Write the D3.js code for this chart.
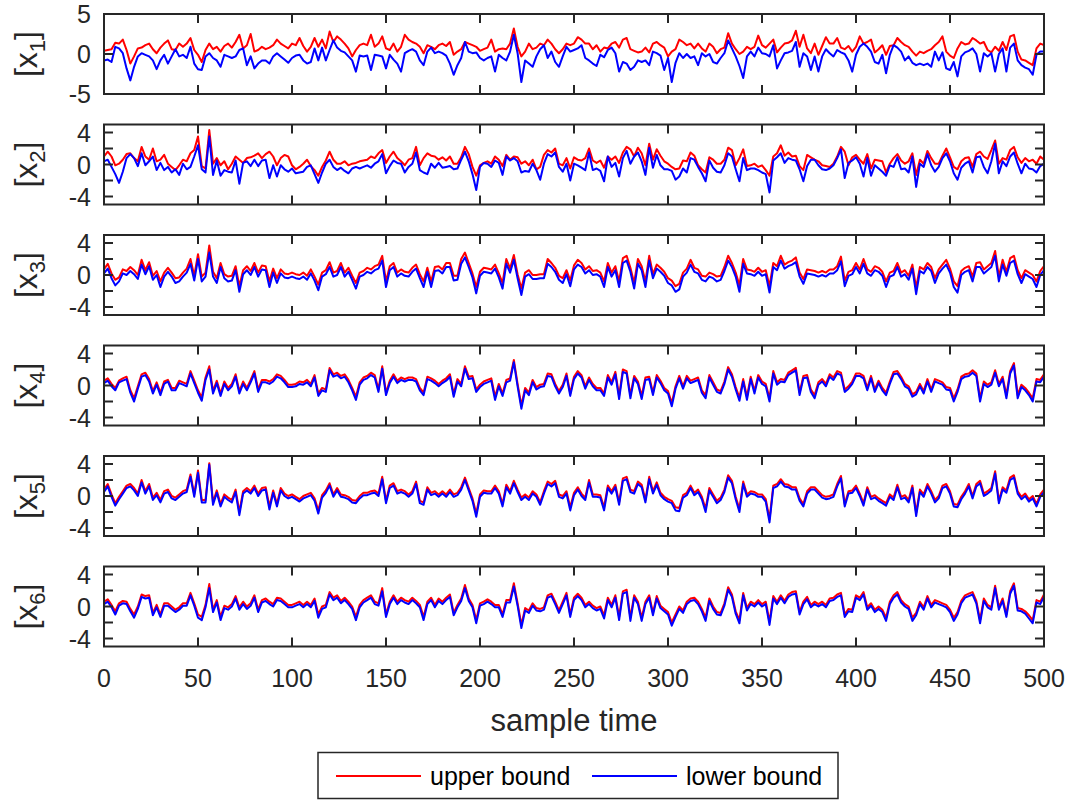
<!DOCTYPE html>
<html><head><meta charset="utf-8">
<script src="https://cdn.jsdelivr.net/npm/d3@7"></script>
<style>
body{margin:0;background:#fff}
svg{display:block}
text{font-family:"Liberation Sans",Arial,Helvetica,sans-serif;fill:#262626}
</style>
</head><body>
<svg id="chart" width="1069" height="800"></svg>
<script>
// ---- data (one value every 2 samples, t = 0..500) ----
const sampleStep = 2;
const xTicks = [0,50,100,150,200,250,300,350,400,450,500];
const yTicksP1 = [-5,0,5];
const yTickLabelsP1 = [-5,0,5];
const yTicksP = [-4,-2,0,2,4];
const yTickLabelsP = [-4,0,4];
const seriesNames = ["upper bound","lower bound"];
const subscripts = ["1","2","3","4","5","6"];

const upper1 = [0.4,0.5,0.6,1.4,1.3,1.8,0.5,-1.2,-0.3,0.7,0.8,1.1,1.3,0.6,0.1,0.8,1.3,1.7,0.6,0.5,1.3,0.9,1.3,2.0,0.5,-0.1,-1.0,0.5,1.3,0.6,0.9,0.3,1.0,1.3,0.8,1.5,2.4,0.7,1.1,2.5,0.3,0.5,0.9,0.6,0.8,1.1,1.8,1.3,1.0,0.7,1.3,1.1,2.0,1.0,0.3,0.9,2.0,0.9,1.8,0.7,2.8,1.5,2.2,1.8,1.3,0.7,-0.3,0.5,1.1,1.3,1.1,2.4,0.9,1.3,2.2,0.7,0.5,1.3,0.3,0.9,2.4,1.8,1.5,1.3,
0.9,0.1,1.1,0.9,0.6,1.1,1.3,1.0,1.5,-0.1,0.3,0.6,1.5,1.3,1.1,0.9,0.4,0.6,0.8,1.8,0.3,0.6,0.7,0.6,1.3,3.2,0.9,-0.3,0.3,1.3,0.6,0.8,1.3,1.1,1.8,1.3,0.6,0.1,0.6,1.3,1.1,1.3,2.1,1.8,1.3,1.3,0.6,1.1,0.3,0.8,0.7,1.3,1.5,0.8,1.8,2.0,0.6,0.4,0.2,0.3,0.8,0.2,1.3,1.5,1.1,0.8,-0.3,0.3,0.6,1.8,1.5,1.1,1.3,0.7,1.3,0.7,0.3,1.3,0.9,0.1,0.6,0.8,2.6,1.3,
0.6,0.0,0.3,0.9,0.6,0.9,2.3,1.1,0.8,1.3,1.8,0.2,0.8,1.3,1.4,1.7,2.9,0.9,2.4,0.7,0.1,1.3,-0.1,1.0,2.1,1.3,1.3,2.0,0.8,0.6,1.0,0.3,0.9,2.2,1.3,1.5,1.8,0.2,0.6,1.1,-0.1,1.0,1.1,2.0,1.5,1.1,0.9,0.3,-0.2,0.3,0.1,0.4,0.6,1.1,1.5,2.2,0.3,-0.2,-0.5,0.7,1.5,1.2,1.3,2.0,1.7,1.3,1.5,0.5,0.2,0.9,0.4,1.5,0.5,2.2,2.4,0.3,-0.7,-0.8,-1.1,-1.4,0.7,1.3,1.1];
const lower1 = [-0.8,-0.7,-1.0,0.9,0.7,0.1,-1.8,-3.3,-1.6,-0.3,0.1,-0.1,-0.3,-0.8,-1.9,-0.8,-0.1,-1.2,-0.3,0.6,-0.3,-0.1,-0.5,0.9,-1.2,-1.9,-2.0,-0.3,0.1,-0.5,-0.8,-1.6,-0.1,-0.3,-0.5,-0.3,0.5,0.7,-1.4,-0.3,-1.8,-1.2,-0.8,-0.8,-1.2,-0.3,0.1,-0.3,-0.7,-1.1,-0.5,-0.2,-0.1,-0.8,-1.2,-1.0,0.7,-0.8,0.8,-0.8,0.5,1.7,0.8,0.4,0.2,-0.3,-0.8,-2.2,-0.2,-0.3,-0.2,-2.0,-0.1,-0.2,-0.3,-1.8,-0.1,-0.7,-1.2,-2.2,0.1,0.4,0.6,0.3,
-0.8,-1.4,0.3,0.8,0.1,0.3,0.1,-0.2,-1.2,-2.6,-1.4,-0.5,1.5,0.3,0.1,0.2,-0.5,-0.8,-0.5,-0.3,-2.2,-0.1,-0.5,-0.8,0.3,2.4,0.1,-3.5,-0.8,-1.2,-1.6,-0.3,0.6,1.1,-0.5,0.3,-1.0,-1.6,-0.3,0.9,0.3,0.5,0.7,1.1,-0.5,-0.8,-1.2,-1.5,-0.1,-0.4,0.5,0.8,0.1,-2.2,-1.0,-1.2,-2.0,-1.6,-0.8,-1.0,-0.8,-1.4,0.3,0.1,-0.2,-2.0,-0.5,-3.5,-1.1,0.1,-0.5,0.0,-0.5,-0.3,-1.4,0.1,-0.3,0.0,-1.0,-1.2,-0.5,0.1,1.7,0.7,
-0.3,-1.5,-3.0,-0.3,0.3,-0.3,0.8,0.1,0.0,-0.3,1.1,-1.8,-0.8,0.1,0.2,0.4,1.5,-1.6,0.1,-0.3,-2.0,-0.3,-2.2,-0.3,0.6,0.1,-0.3,0.5,0.2,0.0,-0.8,-2.2,-0.1,0.9,1.3,0.9,0.3,-1.0,-1.2,-0.1,-2.4,-0.1,1.1,0.8,0.3,-0.8,-0.3,-1.1,-1.4,-1.2,-1.4,-1.2,-1.6,0.3,-0.8,0.2,-1.8,-2.0,-1.0,-2.8,-0.3,0.2,0.4,0.7,0.0,-2.2,0.1,-0.3,0.1,-2.2,0.0,0.7,-2.2,0.8,1.3,-0.8,-1.4,-1.7,-1.9,-2.6,-0.1,0.3,0.3];

const upper2 = [1.0,1.6,1.0,-0.1,0.1,0.6,1.3,1.4,0.8,0.4,2.2,1.0,0.6,2.0,0.4,0.6,1.2,0.1,-0.3,-0.7,-0.1,0.6,0.4,1.4,1.8,3.5,-0.2,-0.5,4.3,0.1,0.8,-0.1,0.4,-0.6,0.1,1.0,0.6,0.2,0.8,0.9,1.1,1.4,0.8,1.3,1.6,1.0,-0.1,0.8,1.2,1.0,-0.1,-0.6,-0.3,0.1,0.6,-0.2,-0.7,-1.4,-0.3,0.5,1.6,0.6,0.1,0.1,0.4,-0.1,0.1,0.2,0.4,0.5,0.6,1.0,0.8,1.4,1.8,0.2,1.0,1.6,0.8,0.4,-0.1,0.6,0.8,2.2,
-0.1,0.8,1.4,1.1,1.0,0.6,0.9,0.5,1.0,0.1,0.1,0.9,2.2,1.3,-0.3,-1.4,-0.1,0.2,0.4,0.1,1.0,0.6,-0.2,1.2,0.6,1.0,0.9,0.1,0.4,-0.1,0.6,-0.6,-0.3,1.2,1.8,1.5,2.0,0.1,-0.1,0.8,-0.5,0.9,0.6,0.5,0.8,2.0,0.5,0.2,0.5,-0.4,1.0,0.6,1.0,0.2,1.5,2.2,1.9,1.0,2.1,1.4,-0.1,2.6,0.6,1.9,1.1,0.4,0.1,-0.3,-0.6,-0.5,0.5,0.4,1.5,1.1,-0.1,-0.6,-1.0,0.9,0.6,0.1,0.1,0.6,2.1,1.8,
-0.1,0.8,1.9,-0.2,-0.1,0.1,-0.3,-0.1,-0.7,-1.4,1.0,1.4,2.4,1.1,1.5,1.0,1.1,-0.2,-0.7,1.2,0.9,0.6,0.4,-0.1,-0.2,-0.3,0.1,1.0,2.2,1.6,-0.1,0.9,1.2,0.6,0.1,1.3,-0.5,0.6,0.5,0.4,-1.0,0.1,0.8,1.3,0.5,0.1,0.4,1.4,-1.3,0.6,0.1,1.7,0.8,0.1,0.1,1.1,2.0,0.9,-0.3,-0.6,0.4,0.8,0.9,-0.3,1.3,1.6,1.0,0.7,1.8,3.0,0.1,0.8,0.6,1.8,2.2,0.9,0.2,0.8,0.4,0.6,0.1,1.0,0.6];
const lower2 = [0.4,0.6,-0.3,-1.2,-2.3,-0.9,0.8,1.3,0.8,-0.2,1.4,-0.1,0.4,1.0,-0.7,0.2,-0.7,-0.3,-1.0,-0.6,-1.3,0.1,-0.6,-0.3,1.0,2.4,-0.6,-1.0,3.5,-1.3,0.5,-1.4,-0.7,-0.9,-1.0,0.5,-2.4,0.2,0.4,-0.2,0.6,-0.2,0.5,0.6,-1.7,-0.1,-1.5,-0.1,-0.6,-0.9,-0.5,-1.1,-1.0,-0.9,-0.3,-0.1,-1.2,-2.3,-1.0,0.1,0.6,-0.3,-0.7,-0.4,-0.8,-1.1,-0.5,-0.3,-0.5,-0.3,-0.1,-0.4,0.1,0.4,1.3,-1.1,-0.2,0.5,0.2,0.1,-1.0,-0.3,0.1,1.5,
-0.7,-1.0,-1.2,0.1,-0.4,0.2,-0.4,-0.3,-0.2,-0.6,-0.5,0.6,1.6,0.4,-1.2,-3.2,-0.3,0.2,0.1,-0.3,0.5,0.2,-1.3,1.0,0.5,0.8,0.4,-1.0,-0.8,-0.9,0.1,-0.7,-1.9,0.1,1.3,1.0,1.5,-0.3,-0.9,0.1,-2.0,0.1,-0.1,-0.4,-0.7,1.5,-0.7,-0.5,-0.8,-2.1,1.0,-0.3,0.2,-1.5,0.8,1.7,0.1,1.0,1.5,0.4,-1.3,2.1,-0.4,1.2,-0.1,-0.6,-0.6,-0.8,-1.9,-1.5,-0.5,-1.0,0.8,0.6,-0.3,-1.1,-2.1,0.5,-0.4,-0.9,-1.0,-0.1,1.4,1.0,
-0.6,-2.1,0.8,-0.7,-0.5,-0.5,-0.7,-1.0,-1.2,-3.5,0.5,0.9,1.4,0.2,0.8,0.6,0.5,-0.6,-2.1,-0.2,0.6,0.6,-0.1,-0.6,-0.7,-0.5,-0.1,0.8,1.9,-1.7,0.2,0.5,0.9,0.1,-1.5,0.8,-1.4,-0.1,-0.5,-0.9,-1.4,-0.1,-0.3,0.9,-0.6,-0.5,-1.0,1.0,-2.8,0.1,-0.3,1.3,-0.1,-0.9,-0.3,0.8,1.4,0.4,-1.1,-1.9,-0.4,0.1,0.4,-1.0,0.9,1.0,-0.3,-1.1,0.4,2.6,-1.1,0.4,-0.2,1.0,1.5,0.1,-1.1,0.1,-0.5,-0.6,-1.0,-0.2,0.1];

const upper3 = [0.7,1.4,0.2,-0.6,-0.3,0.7,0.5,1.0,0.6,0.0,1.9,0.6,1.6,-0.1,0.5,-0.8,0.3,0.9,0.3,-0.4,-0.3,0.3,0.8,2.0,-0.1,2.6,-0.2,0.3,3.7,0.4,-0.4,1.5,0.1,-0.2,-0.1,1.1,-1.4,0.6,1.1,0.5,1.5,0.3,1.2,1.1,-0.8,0.8,-0.4,0.7,0.2,0.1,0.3,0.1,0.0,0.3,-0.1,0.7,-0.2,-1.2,0.3,0.6,1.6,0.3,0.5,1.5,0.3,0.9,-0.1,-1.0,0.3,0.5,0.9,0.7,1.1,1.3,2.4,-0.8,1.1,1.5,0.3,0.7,0.4,0.3,0.9,1.3,
0.1,-0.8,0.9,-0.8,1.0,1.1,0.7,1.5,1.5,-0.1,-0.1,2.0,2.8,1.5,0.2,-1.5,0.4,0.9,0.8,0.7,1.3,0.2,-1.0,2.0,0.8,2.5,0.1,-1.7,0.3,0.6,0.0,0.0,0.1,0.1,2.0,1.5,0.9,-0.1,-0.4,0.6,-0.7,1.2,1.9,1.5,0.7,1.1,0.5,0.6,0.3,-0.8,1.5,0.3,1.1,-0.8,2.1,2.4,0.9,-1.0,2.0,1.1,-0.8,2.4,0.1,1.3,0.9,0.4,-0.4,-0.7,-1.4,-1.1,0.3,0.8,1.9,0.9,0.7,-0.1,-0.2,0.3,0.1,-0.2,-0.1,1.0,2.4,1.5,
0.3,-1.3,2.0,0.7,0.6,0.4,0.9,0.4,0.6,-1.4,1.5,1.1,2.4,1.3,1.6,1.8,2.2,0.3,-0.5,0.7,0.6,0.5,0.3,0.5,0.3,0.7,0.7,1.1,2.3,-0.7,0.4,0.6,1.5,0.7,2.0,0.7,0.4,1.1,0.9,0.4,-0.8,0.3,0.5,1.5,0.3,0.6,-0.1,1.3,-1.6,1.0,0.7,1.5,1.0,-0.4,0.7,1.3,1.9,0.8,-0.8,-1.4,0.5,0.9,1.1,-0.2,1.5,1.6,0.7,1.1,1.5,3.0,-0.2,1.9,0.4,2.1,2.4,0.6,-0.4,0.6,0.3,0.0,-0.8,0.5,1.1];
const lower3 = [0.2,0.8,-0.4,-1.3,-0.8,0.2,0.0,0.5,0.1,-0.5,1.3,0.1,1.1,-0.6,0.0,-1.5,-0.2,0.4,-0.2,-1.0,-0.8,-0.2,0.3,1.4,-0.7,2.0,-0.8,-0.2,2.8,-0.2,-1.0,1.0,-0.4,-0.8,-0.7,0.6,-2.1,0.1,0.6,0.0,1.0,-0.2,0.7,0.6,-1.5,0.3,-1.0,0.2,-0.3,-0.4,-0.2,-0.4,-0.5,-0.2,-0.6,0.2,-0.7,-1.9,-0.2,0.1,1.0,-0.2,0.0,1.0,-0.2,0.4,-0.6,-1.7,-0.2,0.0,0.4,0.2,0.6,0.8,1.8,-1.5,0.6,1.0,-0.2,0.2,-0.1,-0.2,0.4,0.8,
-0.4,-1.5,0.4,-1.5,0.5,0.6,0.2,1.0,1.0,-0.7,-0.6,1.4,2.2,1.0,-0.3,-2.3,-0.1,0.4,0.3,0.2,0.8,-0.3,-1.7,1.4,0.3,1.9,-0.4,-2.5,-0.2,0.1,-0.5,-0.5,-0.4,-0.4,1.4,1.0,0.4,-0.6,-1.0,0.1,-1.4,0.7,1.3,1.0,0.2,0.6,0.0,0.1,-0.2,-1.5,1.0,-0.2,0.6,-1.5,1.5,1.8,0.4,-1.7,1.4,0.6,-1.5,1.8,-0.4,0.8,0.4,-0.1,-1.0,-1.3,-2.1,-1.8,-0.2,0.3,1.3,0.4,0.2,-0.6,-0.8,-0.2,-0.4,-0.8,-0.6,0.5,1.8,1.0,
-0.2,-2.1,1.4,0.2,0.1,-0.1,0.4,-0.1,0.1,-2.2,1.0,0.6,1.8,0.8,1.1,1.3,1.6,-0.2,-1.1,0.2,0.1,0.0,-0.2,0.0,-0.2,0.2,0.2,0.6,1.7,-1.4,-0.1,0.1,1.0,0.2,1.4,0.2,-0.1,0.6,0.4,-0.1,-1.5,-0.2,0.0,1.0,-0.2,0.1,-0.6,0.8,-2.4,0.5,0.2,1.0,0.5,-1.0,0.2,0.8,1.3,0.3,-1.5,-2.2,0.0,0.4,0.6,-0.8,1.0,1.0,0.2,0.6,1.0,2.4,-0.8,1.3,-0.1,1.5,1.8,0.1,-1.0,0.1,-0.2,-0.5,-1.5,0.0,0.6];

const upper4 = [0.6,0.9,0.2,-0.3,0.6,0.9,1.1,-0.6,-1.6,-0.1,1.4,1.6,0.8,-0.7,0.4,-0.9,0.5,0.7,-0.3,-0.3,0.6,0.4,0.2,1.8,0.6,-0.6,-1.5,1.0,2.4,-0.7,0.6,-1.0,0.5,-0.3,0.2,1.4,-0.7,0.5,-0.3,0.7,1.8,-0.5,0.7,0.7,0.5,0.8,1.4,1.2,0.7,0.1,0.1,0.2,0.5,0.4,0.7,0.2,1.3,-1.0,-0.3,-0.5,2.2,1.4,1.6,1.2,1.4,0.7,-0.3,-1.4,0.4,1.0,1.2,1.6,1.3,-0.5,2.4,-0.9,0.6,1.4,0.6,1.0,0.8,1.0,1.0,0.8,
-0.3,-0.9,1.1,0.9,0.6,0.2,0.6,0.9,1.4,-1.1,0.8,0.2,2.4,1.1,1.2,-0.5,0.1,0.5,0.7,0.9,-1.4,0.2,-1.0,0.7,0.9,3.2,0.2,-2.5,-0.3,-0.9,0.7,-0.2,0.1,0.2,1.5,1.4,0.2,-0.7,0.1,1.5,-1.0,1.1,1.8,1.3,-0.1,1.0,0.2,-0.3,-0.3,-1.0,1.3,0.4,1.7,-1.3,2.0,1.8,-1.2,1.2,0.5,-1.3,1.0,1.1,-0.9,1.3,0.6,-0.3,-0.7,-2.2,-0.1,1.2,-0.1,1.2,0.6,0.8,1.0,-0.6,-1.2,1.3,0.4,-0.5,-0.7,0.5,2.3,1.4,
-0.2,-1.5,0.8,-1.4,1.1,-0.7,1.3,0.5,0.2,-1.6,1.8,0.4,0.8,0.7,1.6,1.9,2.2,-0.9,1.2,1.3,-0.5,-1.2,0.4,0.8,0.2,1.4,1.0,1.8,1.6,-0.5,-0.1,0.5,1.5,1.5,1.2,-0.3,1.2,-0.5,0.6,-0.3,-0.9,0.5,1.7,1.8,1.1,0.2,-0.1,-1.1,-0.8,0.2,-0.7,0.8,-0.5,0.8,0.6,0.4,-0.2,-0.3,-1.6,-0.5,1.1,1.4,1.5,1.9,1.5,-1.6,0.5,0.1,0.4,1.9,0.2,1.1,-1.2,1.8,2.8,-1.2,0.1,-0.3,-0.9,-1.6,0.8,0.7,1.4];
const lower4 = [0.3,0.6,-0.1,-0.6,0.4,0.6,0.8,-0.9,-2.0,-0.4,1.1,1.3,0.5,-1.0,0.1,-1.2,0.2,0.5,-0.6,-0.6,0.3,0.1,-0.1,1.5,0.3,-0.9,-1.9,0.7,2.0,-1.0,0.3,-1.3,0.2,-0.6,-0.1,1.1,-1.0,0.2,-0.6,0.4,1.5,-0.8,0.4,0.4,0.2,0.5,1.1,0.9,0.4,-0.2,-0.2,-0.1,0.2,0.1,0.4,-0.1,1.0,-1.3,-0.6,-0.8,1.9,1.1,1.3,0.9,1.1,0.4,-0.6,-1.8,0.1,0.7,0.9,1.3,1.0,-0.8,2.1,-1.2,0.3,1.1,0.3,0.7,0.5,0.7,0.7,0.5,
-0.6,-1.2,0.8,0.6,0.3,-0.1,0.3,0.6,1.1,-1.4,0.5,-0.1,2.1,0.8,0.9,-0.8,-0.2,0.2,0.4,0.6,-1.8,-0.1,-1.3,0.4,0.6,2.9,-0.1,-2.9,-0.6,-1.2,0.4,-0.5,-0.2,-0.1,1.2,1.1,-0.1,-1.0,-0.2,1.2,-1.3,0.8,1.5,1.0,-0.4,0.7,-0.1,-0.6,-0.6,-1.3,1.0,0.1,1.4,-1.7,1.7,1.5,-1.6,0.9,0.2,-1.7,0.7,0.8,-1.2,1.0,0.3,-0.6,-1.0,-2.6,-0.4,0.9,-0.4,0.9,0.3,0.5,0.7,-0.9,-1.6,1.0,0.1,-0.8,-1.0,0.2,2.0,1.1,
-0.5,-1.9,0.5,-1.8,0.8,-1.0,1.0,0.2,-0.1,-2.0,1.5,0.1,0.5,0.4,1.3,1.6,1.9,-1.2,0.9,1.0,-0.8,-1.6,0.1,0.5,-0.1,1.1,0.7,1.5,1.3,-0.8,-0.4,0.2,1.2,1.2,0.9,-0.6,0.9,-0.8,0.3,-0.6,-1.2,0.2,1.4,1.5,0.8,-0.1,-0.4,-1.4,-1.1,-0.1,-1.0,0.5,-0.8,0.5,0.3,0.1,-0.5,-0.6,-2.0,-0.8,0.8,1.1,1.2,1.6,1.2,-2.0,0.2,-0.2,0.1,1.6,-0.1,0.8,-1.6,1.5,2.5,-1.6,-0.2,-0.6,-1.2,-2.0,0.5,0.4,1.1];

const upper5 = [0.8,1.5,0.2,-0.9,-0.1,0.6,1.3,1.5,1.0,0.3,2.0,0.6,1.5,-0.2,0.4,-0.5,0.6,0.8,0.0,-0.2,0.2,0.6,0.8,2.7,0.2,3.2,-0.5,-0.5,4.1,-0.8,0.7,-1.0,0.2,-0.2,-0.5,0.8,-2.0,0.6,1.0,0.6,1.3,0.3,1.0,1.1,-1.3,0.7,-1.0,1.0,0.3,0.0,0.2,-0.1,-0.4,0.0,0.2,0.4,-0.3,-1.8,0.1,0.7,1.6,0.2,1.0,0.2,0.1,-0.1,-0.5,-0.6,0.0,0.4,0.4,0.6,0.7,0.3,2.4,-0.6,1.3,1.6,0.6,0.8,0.6,0.2,0.6,1.8,
-0.6,-0.8,1.1,0.4,0.6,0.2,0.6,0.2,0.8,0.2,0.4,1.1,2.3,1.0,-0.3,-2.2,0.2,0.7,0.6,0.6,1.3,0.6,-1.0,1.4,0.6,1.9,0.8,-0.2,0.2,-0.2,0.6,0.2,-0.8,0.6,1.8,1.5,1.9,0.2,0.0,0.6,-1.4,0.4,1.1,0.3,-0.2,2.0,0.2,0.2,0.1,-1.4,1.3,0.6,1.4,-0.8,2.2,2.4,0.8,0.6,1.8,1.4,-0.5,2.4,0.6,1.7,0.4,-0.1,-0.4,-0.6,-1.4,-1.5,0.1,0.4,1.3,0.4,0.8,-0.1,-1.6,1.0,0.2,-0.6,-0.2,0.8,2.6,1.9,
-0.1,-1.6,1.8,0.2,0.6,0.5,0.2,0.2,-0.4,-2.9,1.3,1.5,2.1,1.5,1.4,1.1,1.1,-0.3,-1.0,0.6,1.1,1.1,0.6,0.1,-0.1,0.0,0.2,1.5,2.5,-1.0,0.6,0.7,1.3,0.3,-0.9,1.1,-0.1,0.1,-0.3,-0.6,-0.9,0.2,-0.2,1.4,-0.1,0.1,-0.5,1.3,-2.1,0.8,0.2,1.5,0.6,-0.5,0.0,1.3,1.5,0.6,-1.0,-1.1,-0.1,0.6,1.5,0.0,1.5,1.9,0.3,0.6,1.0,3.1,-0.6,1.1,0.7,2.3,2.6,0.6,-0.1,0.3,-0.4,0.0,-1.0,0.2,0.8];
const lower5 = [0.5,1.2,-0.1,-1.2,-0.4,0.3,1.0,1.2,0.7,0.0,1.7,0.3,1.2,-0.5,0.1,-0.8,0.3,0.5,-0.3,-0.5,-0.1,0.3,0.5,2.4,-0.1,2.9,-0.8,-0.8,3.9,-1.1,0.4,-1.3,-0.1,-0.5,-0.8,0.5,-2.4,0.3,0.7,0.3,1.0,0.0,0.7,0.8,-1.7,0.4,-1.3,0.7,0.0,-0.3,-0.1,-0.4,-0.7,-0.3,-0.1,0.1,-0.6,-2.2,-0.2,0.4,1.3,-0.1,0.7,-0.1,-0.2,-0.4,-0.8,-0.9,-0.3,0.1,0.1,0.3,0.4,0.0,2.1,-0.9,1.0,1.3,0.3,0.5,0.3,-0.1,0.3,1.5,
-0.9,-1.1,0.8,0.1,0.3,-0.1,0.3,-0.1,0.5,-0.1,0.1,0.8,2.0,0.7,-0.6,-2.6,-0.1,0.4,0.3,0.3,1.0,0.3,-1.3,1.1,0.3,1.6,0.5,-0.5,-0.1,-0.5,0.3,-0.1,-1.1,0.3,1.5,1.2,1.6,-0.1,-0.3,0.3,-1.8,0.1,0.8,0.0,-0.5,1.7,-0.1,-0.1,-0.2,-1.8,1.0,0.3,1.1,-1.1,1.9,2.1,0.5,0.3,1.5,1.1,-0.8,2.1,0.3,1.4,0.1,-0.4,-0.7,-0.9,-1.8,-1.9,-0.2,0.1,1.0,0.1,0.5,-0.4,-2.0,0.7,-0.1,-0.9,-0.5,0.5,2.3,1.6,
-0.4,-2.0,1.5,-0.1,0.3,0.2,-0.1,-0.1,-0.7,-3.3,1.0,1.2,1.8,1.2,1.1,0.8,0.8,-0.6,-1.3,0.3,0.8,0.8,0.3,-0.2,-0.4,-0.3,-0.1,1.2,2.2,-1.3,0.3,0.4,1.0,0.0,-1.2,0.8,-0.4,-0.2,-0.6,-0.9,-1.2,-0.1,-0.5,1.1,-0.4,-0.2,-0.8,1.0,-2.5,0.5,-0.1,1.2,0.3,-0.8,-0.3,1.0,1.2,0.3,-1.3,-1.4,-0.4,0.3,1.2,-0.3,1.2,1.6,0.0,0.3,0.7,2.8,-0.9,0.8,0.4,2.0,2.3,0.3,-0.4,0.0,-0.7,-0.3,-1.3,-0.1,0.5];

const upper6 = [0.6,0.9,0.2,-0.6,0.4,0.7,0.6,-0.3,-1.0,0.0,1.5,1.3,1.4,-0.8,0.2,-1.0,0.4,0.4,0.0,-0.4,-0.1,0.4,0.4,1.7,0.4,-1.0,-1.3,0.2,2.8,-0.4,0.8,-1.3,0.1,-0.1,0.3,1.3,-0.1,0.6,0.0,0.4,1.4,-0.4,0.8,1.0,0.6,0.3,1.1,1.0,0.6,0.2,0.2,0.4,0.6,0.2,0.6,0.2,1.0,-1.0,0.0,0.2,1.8,1.1,1.4,0.7,1.1,0.6,0.0,-1.3,0.2,0.8,1.1,1.4,0.6,0.4,2.3,-1.0,0.6,1.4,0.6,1.1,0.8,0.6,1.1,0.7,
0.2,-1.3,0.6,1.1,0.2,1.0,0.6,1.1,1.5,-0.8,0.2,1.0,2.7,1.0,0.2,-1.7,0.4,0.6,0.9,0.6,0.2,0.2,-1.0,0.8,0.8,2.9,0.4,-2.3,-0.2,-0.5,0.4,-0.2,-0.3,-0.1,1.4,1.6,0.6,-0.5,0.6,1.7,-1.0,1.1,1.6,1.1,0.2,0.6,0.1,-0.2,0.0,-1.1,1.1,0.2,1.4,-1.3,1.9,2.1,-1.4,1.4,0.6,-1.4,0.6,1.4,-0.8,1.3,0.1,-0.3,-0.7,-2.0,-1.0,0.0,-0.5,0.6,1.0,1.1,0.6,-0.3,-1.4,1.0,0.0,-0.7,-0.8,0.4,2.4,1.5,
-0.6,-1.7,1.7,-0.2,0.6,0.3,0.8,0.3,0.6,-1.9,1.3,0.6,1.4,0.7,1.5,1.8,1.9,-0.7,0.6,1.2,0.2,0.6,0.3,0.6,0.2,1.0,1.1,1.5,1.7,-1.0,-0.3,-0.4,1.4,1.1,1.8,-0.1,0.4,-0.4,0.0,-0.4,-1.4,0.6,1.4,1.8,0.8,0.3,0.0,-1.4,-0.8,0.6,-0.1,1.3,0.2,0.8,0.6,0.4,0.2,-0.4,-1.4,-0.7,0.7,1.4,1.6,1.8,0.7,-1.7,1.0,0.2,-0.1,2.6,-0.1,1.0,-1.0,1.9,2.9,-0.2,-0.3,-0.6,-1.1,-1.7,0.8,0.6,1.5];
const lower6 = [0.3,0.6,-0.1,-1.0,0.1,0.4,0.3,-0.6,-1.4,-0.3,1.2,1.0,1.1,-1.1,-0.1,-1.3,0.1,0.1,-0.3,-0.7,-0.4,0.1,0.1,1.4,0.1,-1.4,-1.7,-0.1,2.3,-0.7,0.5,-1.7,-0.2,-0.4,0.0,1.0,-0.4,0.3,-0.3,0.1,1.1,-0.7,0.5,0.7,0.3,0.0,0.8,0.7,0.3,-0.1,-0.1,0.1,0.3,-0.1,0.3,-0.1,0.7,-1.4,-0.3,-0.1,1.5,0.8,1.1,0.4,0.8,0.3,-0.3,-1.7,-0.1,0.5,0.8,1.1,0.3,0.1,1.9,-1.3,0.3,1.1,0.3,0.8,0.5,0.3,0.8,0.4,
-0.1,-1.7,0.3,0.8,-0.1,0.7,0.3,0.8,1.2,-1.1,-0.1,0.7,2.3,0.7,-0.1,-2.1,0.1,0.3,0.6,0.3,-0.1,-0.1,-1.3,0.5,0.5,2.5,0.1,-2.7,-0.5,-0.8,0.1,-0.5,-0.6,-0.4,1.1,1.3,0.3,-0.8,0.3,1.4,-1.3,0.8,1.3,0.8,-0.1,0.3,-0.2,-0.5,-0.3,-1.5,0.8,-0.1,1.1,-1.7,1.6,1.8,-1.8,1.1,0.3,-1.8,0.3,1.1,-1.1,1.0,-0.2,-0.6,-1.0,-2.4,-1.3,-0.3,-0.8,0.3,0.7,0.8,0.3,-0.6,-1.8,0.7,-0.3,-1.0,-1.1,0.1,2.1,1.2,
-0.9,-2.1,1.4,-0.5,0.3,0.0,0.5,0.0,0.3,-2.3,1.0,0.3,1.1,0.4,1.2,1.5,1.6,-1.0,0.3,0.9,-0.1,0.3,0.0,0.3,-0.1,0.7,0.8,1.2,1.4,-1.3,-0.6,-0.7,1.1,0.8,1.5,-0.4,0.1,-0.7,-0.3,-0.7,-1.8,0.3,1.1,1.5,0.5,0.0,-0.3,-1.8,-1.1,0.3,-0.4,1.0,-0.1,0.5,0.3,0.1,-0.1,-0.7,-1.8,-1.0,0.4,1.1,1.3,1.5,0.4,-2.1,0.7,-0.1,-0.4,2.3,-0.4,0.7,-1.3,1.6,2.6,-0.5,-0.6,-0.9,-1.5,-2.1,0.5,0.3,1.2];

const uppers = [upper1,upper2,upper3,upper4,upper5,upper6];
const lowers = [lower1,lower2,lower3,lower4,lower5,lower6];

// ---- drawing ----
const svg = d3.select("#chart");
const C = "#262626";
const FONT = '"Liberation Sans",Arial,Helvetica,sans-serif';
const plotL = 104, plotR = 1044, panelH = 80, top0 = 14, panelGap = 110.5, tickLen = 9;
const x = d3.scaleLinear().domain([0,500]).range([plotL, plotR]);
const defs = svg.append("defs");

uppers.forEach((up, i) => {
  const top = top0 + i*panelGap;
  const y = d3.scaleLinear().domain([-5,5]).range([top+panelH, top]);
  const g = svg.append("g");
  const cid = "clip" + i;
  defs.append("clipPath").attr("id", cid).append("rect")
    .attr("x", plotL).attr("y", top).attr("width", plotR-plotL).attr("height", panelH);
  const line = d3.line().x((d,k) => x(k*sampleStep)).y(d => y(d));
  g.append("path").datum(up).attr("d", line).attr("fill","none")
    .attr("stroke","#ff0000").attr("stroke-width",2).attr("stroke-linejoin","round")
    .attr("clip-path",`url(#${cid})`);
  g.append("path").datum(lowers[i]).attr("d", line).attr("fill","none")
    .attr("stroke","#0000ff").attr("stroke-width",2).attr("stroke-linejoin","round")
    .attr("clip-path",`url(#${cid})`);

  // ticks
  const yt = i === 0 ? yTicksP1 : yTicksP;
  const ytl = i === 0 ? yTickLabelsP1 : yTickLabelsP;
  xTicks.forEach(v => {
    g.append("line").attr("x1",x(v)).attr("x2",x(v)).attr("y1",top).attr("y2",top+tickLen)
      .attr("stroke",C).attr("stroke-width",2);
    g.append("line").attr("x1",x(v)).attr("x2",x(v)).attr("y1",top+panelH).attr("y2",top+panelH-tickLen)
      .attr("stroke",C).attr("stroke-width",2);
  });
  yt.forEach(v => {
    g.append("line").attr("x1",plotL).attr("x2",plotL+tickLen).attr("y1",y(v)).attr("y2",y(v))
      .attr("stroke",C).attr("stroke-width",2);
    g.append("line").attr("x1",plotR).attr("x2",plotR-tickLen).attr("y1",y(v)).attr("y2",y(v))
      .attr("stroke",C).attr("stroke-width",2);
  });
  g.append("rect").attr("x",plotL).attr("y",top).attr("width",plotR-plotL).attr("height",panelH)
    .attr("fill","none").attr("stroke",C).attr("stroke-width",2);

  ytl.forEach(v => {
    g.append("text").attr("x", 91).attr("y", y(v)).attr("dy","0.36em")
      .attr("text-anchor","end").attr("font-size",25).text(v);
  });

  const lab = g.append("text")
    .attr("transform", `translate(37,${top+panelH/2}) rotate(-90)`)
    .attr("text-anchor","middle").attr("font-size",32);
  lab.append("tspan").text("[x");
  lab.append("tspan").attr("font-size",22).attr("dy",8).text(subscripts[i]);
  lab.append("tspan").attr("dy",-8).text("]");

  if (i === uppers.length-1) {
    xTicks.forEach(v => {
      svg.append("text").attr("x", x(v)).attr("y", 687).attr("text-anchor","middle")
        .attr("font-size",25).text(v);
    });
  }
});

svg.append("text").attr("x", (plotL+plotR)/2).attr("y", 731).attr("text-anchor","middle")
  .attr("font-size",31).text("sample time");

// legend
const lg = svg.append("g");
lg.append("rect").attr("x",318).attr("y",752.5).attr("width",520).attr("height",46)
  .attr("fill","#fff").attr("stroke",C).attr("stroke-width",1.5);
const legColors = ["#ff0000","#0000ff"];
const legX = [336, 592];
seriesNames.forEach((nm, k) => {
  lg.append("line").attr("x1",legX[k]).attr("x2",legX[k]+85).attr("y1",776).attr("y2",776)
    .attr("stroke",legColors[k]).attr("stroke-width",2);
  lg.append("text").attr("x",legX[k]+94).attr("y",785).attr("font-size",25)
    .style("fill","#000").text(nm);
});
</script>
</body></html>
